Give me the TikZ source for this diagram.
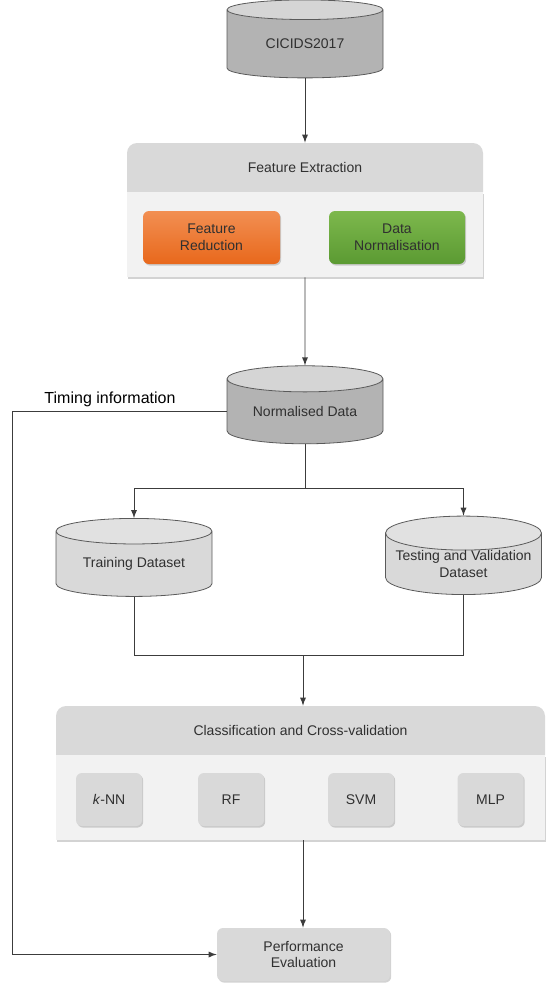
\documentclass[tikz,border=0pt]{standalone}
\usepackage{fontspec}
\setmainfont{Liberation Sans}
\usetikzlibrary{shapes.geometric, shadows}

\definecolor{inkgrey}{HTML}{303030}
\definecolor{rimgrey}{HTML}{5A5A5A}
\definecolor{linegrey}{HTML}{3C3C3C}
\definecolor{drumdark}{HTML}{B3B3B3}
\definecolor{drumdarktop}{HTML}{D5D5D5}
\definecolor{drumlight}{HTML}{D9D9D9}
\definecolor{drumlighttop}{HTML}{E1E1E1}
\definecolor{headgrey}{HTML}{D9D9D9}
\definecolor{panelgrey}{HTML}{F2F2F2}
\definecolor{boxgrey}{HTML}{D9D9D9}
\definecolor{orangetop}{HTML}{F28F52}
\definecolor{orangebot}{HTML}{E8681C}
\definecolor{greentop}{HTML}{7DB84D}
\definecolor{greenbot}{HTML}{5B9A32}

\tikzset{
  txt/.style = {font = \fontsize{7}{8.4}\selectfont, text = inkgrey,
    align = center},
  soft/.style = {drop shadow = {shadow xshift = .6pt, shadow yshift = -.8pt,
    opacity = .35}},
  drum/.style = {txt, cylinder, shape border rotate = 90, aspect = .25,
    draw = rimgrey, line width = .4pt, cylinder uses custom fill,
    minimum width = 78pt, minimum height = 39pt, inner sep = 0pt},
  darkdrum/.style = {drum, cylinder body fill = drumdark,
    cylinder end fill = drumdarktop},
  lightdrum/.style = {drum, cylinder body fill = drumlight,
    cylinder end fill = drumlighttop},
  head/.style = {fill = headgrey, rounded corners = 5pt, minimum height = 29.5pt},
  panel/.style = {soft, fill = panelgrey, minimum height = 42.5pt},
  stage/.style = {txt, soft, rounded corners = 3pt, minimum height = 26.5pt},
  algo/.style = {stage, fill = boxgrey, minimum width = 33pt},
  link/.style = {draw = linegrey, line width = .4pt}
}

\begin{document}
\begin{tikzpicture}[x = .5pt, y = -.5pt]
  \useasboundingbox (0, 0) rectangle (546, 987);

  \node[darkdrum] (cic) at (305, 44) {CICIDS2017};

  \node[head, minimum width = 178pt] (fe) at (305, 172.5) {};
  \node[panel, minimum width = 178pt] (feb) at (305, 234.5) {};
  \node[txt] (fetitle) at (305, 167.5) {Feature Extraction};
  \node[stage, top color = orangetop, bottom color = orangebot,
  minimum width = 68.5pt] (fr) at (211.5, 237.5) {Feature\\Reduction};
  \node[stage, top color = greentop, bottom color = greenbot,
  minimum width = 68pt] (dn) at (397, 237.5) {Data\\Normalisation};

  \node[darkdrum] (norm) at (305, 411.5) {Normalised Data};
  \node[txt, font = \fontsize{8}{9.6}\selectfont, text = black] (timing) at
  (110, 399) {Timing information};

  \node[lightdrum] (train) at (134, 564) {Training Dataset};
  \node[lightdrum] (test) at (463.5, 564) {Testing and Validation\\Dataset};

  \node[head, minimum width = 244.5pt] (cls) at (300.5, 735.5) {};
  \node[panel, minimum width = 244.5pt] (clb) at (300.5, 797.5) {};
  \node[txt] (clstitle) at (300.5, 730.5) {Classification and Cross-validation};
  \node[algo] (knn) at (109, 799.5) {\textit{k}-NN};
  \node[algo] (rf) at (231, 799.5) {RF};
  \node[algo] (svm) at (361, 799.5) {SVM};
  \node[algo] (mlp) at (490.5, 799.5) {MLP};

  \node[stage, fill = boxgrey, minimum width = 86.5pt] (perf) at
  (303.5, 954.5) {Performance\\Evaluation};

  \coordinate (split) at (305, 488);
  \coordinate (merge) at (303, 655);
  \coordinate (rail) at (12, 0);

  \draw[link, -latex] (cic.south) -- (fe.north);
  \draw[link, -latex] (feb.south) -- (norm.north);
  \draw[link] (norm.south) -- (split);
  \draw[link, -latex] (split) -| (train.north);
  \draw[link, -latex] (split) -| (test.north);
  \draw[link] (train.south) |- (merge) -| (test.south);
  \draw[link, -latex] (merge) -- (merge |- cls.north);
  \draw[link, -latex] (merge |- clb.south) -- (merge |- perf.north);
  \draw[link, -latex] (norm.west) -- (norm.west -| rail) |- (perf.west);
\end{tikzpicture}
\end{document}
